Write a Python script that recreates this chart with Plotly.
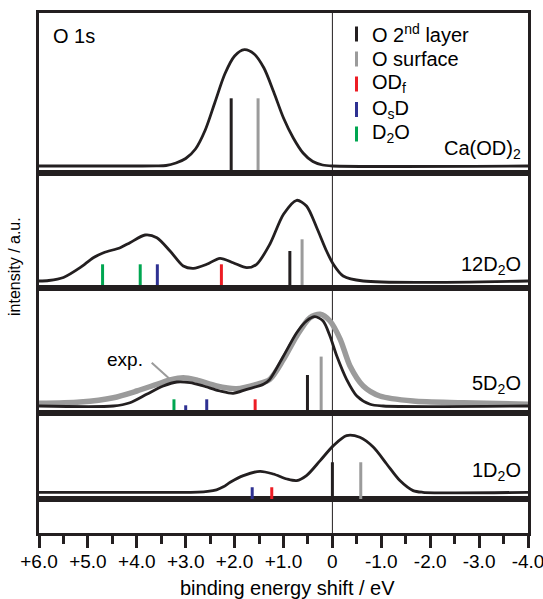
import plotly.graph_objects as go

# ---------------- data ----------------
# binding energy shift (eV) and simulated intensity (a.u.) for each system
ca_E = [6.0, 4.0, 3.6, 3.4, 3.2, 3.0, 2.8, 2.6, 2.4, 2.2, 2.0, 1.8, 1.6, 1.4, 1.2, 1.0, 0.8, 0.6, 0.4, 0.2, 0.0, -4.0]
ca_I = [0, 0, 0.001, 0.005, 0.03, 0.075, 0.17, 0.36, 0.64, 0.92, 1.10, 1.163, 1.12, 0.98, 0.74, 0.48, 0.28, 0.13, 0.045, 0.01, 0, 0]

w12_E = [6.0, 5.8, 5.5, 5.16, 4.89, 4.68, 4.34, 4.14, 3.83, 3.59, 3.32, 3.05, 2.84, 2.57, 2.30, 2.03, 1.75, 1.55,
         1.28, 1.00, 0.73, 0.53, 0.32, 0.12, -0.02, -0.22, -0.63, -4.0]
w12_I = [0, 0.005, 0.035, 0.133, 0.233, 0.283, 0.333, 0.383, 0.46, 0.433, 0.30, 0.15, 0.127, 0.167, 0.227, 0.183,
         0.133, 0.167, 0.367, 0.667, 0.807, 0.75, 0.533, 0.30, 0.167, 0.05, 0, 0]

w5_E = [6.0, 4.48, 4.14, 3.80, 3.46, 3.18, 2.91, 2.64, 2.30, 2.03, 1.75, 1.41, 1.28, 1.00, 0.73, 0.53, 0.36, 0.19,
        0.05, -0.09, -0.29, -0.50, -0.77, -1.04, -4.0]
w5_I = [0, 0, 0.033, 0.117, 0.20, 0.24, 0.233, 0.20, 0.15, 0.127, 0.167, 0.217, 0.267, 0.50, 0.733, 0.85, 0.893,
        0.85, 0.70, 0.50, 0.267, 0.10, 0.017, 0, 0]

# measured spectrum for 5 D2O
exp_E = [6.0, 5.16, 4.48, 4.00, 3.59, 3.32, 3.05, 2.78, 2.37, 1.96, 1.55, 1.28, 1.00, 0.73, 0.46, 0.25, 0.05,
         -0.16, -0.36, -0.63, -0.97, -1.65, -2.68, -4.0]
exp_I = [0.027, 0.04, 0.083, 0.15, 0.217, 0.26, 0.283, 0.26, 0.20, 0.173, 0.217, 0.267, 0.467, 0.70, 0.883,
         0.917, 0.85, 0.667, 0.40, 0.20, 0.10, 0.05, 0.033, 0.017]

w1_E = [6.0, 3.0, 2.75, 2.55, 2.37, 2.23, 2.09, 1.82, 1.48, 1.21, 0.93, 0.73, 0.53, 0.25, -0.02, -0.29, -0.56,
        -0.84, -1.11, -1.38, -1.65, -1.85, -4.0]
w1_I = [0, 0, 0.002, 0.009, 0.025, 0.055, 0.10, 0.167, 0.21, 0.183, 0.133, 0.117, 0.167, 0.317, 0.467, 0.567,
        0.55, 0.45, 0.283, 0.117, 0.017, 0, 0]

# core-level shifts of the individual oxygen species (stick spectra)
ca_stick_E = [2.07, 1.52]
ca_stick_I = [0.677, 0.677]
ca_stick_kind = ["O2", "Os"]

w12_stick_E = [4.70, 3.93, 3.58, 2.27, 0.87, 0.62]
w12_stick_I = [0.167, 0.167, 0.167, 0.167, 0.30, 0.417]
w12_stick_kind = ["D2O", "D2O", "OsD", "ODf", "O2", "Os"]

w5_stick_E = [3.24, 3.00, 2.57, 1.58, 0.51, 0.23]
w5_stick_I = [0.067, 0.007, 0.067, 0.067, 0.31, 0.494]
w5_stick_kind = ["D2O", "OsD", "OsD", "ODf", "O2", "Os"]

w1_stick_E = [1.64, 1.24, 0.0, -0.58]
w1_stick_I = [0.05, 0.05, 0.30, 0.30]
w1_stick_kind = ["OsD", "ODf", "O2", "Os"]

tick_vals = [6, 5, 4, 3, 2, 1, 0, -1, -2, -3, -4]
tick_text = ["+6.0", "+5.0", "+4.0", "+3.0", "+2.0", "+1.0", "0", "-1.0", "-2.0", "-3.0", "-4.0"]

panel_labels = ["Ca(OD)<sub>2</sub>", "12D<sub>2</sub>O", "5D<sub>2</sub>O", "1D<sub>2</sub>O"]

legend_kinds = ["O2", "Os", "ODf", "OsD", "D2O"]
legend_text = ["O 2<sup>nd</sup> layer", "O surface", "OD<sub>f</sub>", "O<sub>s</sub>D", "D<sub>2</sub>O"]

# ---------------- style ----------------
INK = "#231f20"
KIND_COLOR = {"O2": "#231f20", "Os": "#9b9b9b", "ODf": "#ed1c24", "OsD": "#2e3192", "D2O": "#00a651"}
FONT = "Liberation Sans, Arial, sans-serif"

W, H = 543, 599
L, R, T, B = 39, 528, 13, 533          # plot area in pixels
edges = [13, 173, 288, 413, 499.3, 533]  # panel borders (top to bottom)
BASE_PX = 7                               # baseline sits this far above a panel's lower border
PX_PER_UNIT = 100.0
X_RANGE = [6.0, -4.0]


def fx(px):
    return (px - L) / (R - L)


def fy(py):
    return (B - py) / (B - T)


fig = go.Figure()

curves = [(ca_E, ca_I), (w12_E, w12_I), (w5_E, w5_I), (w1_E, w1_I)]
sticks = [(ca_stick_E, ca_stick_I, ca_stick_kind), (w12_stick_E, w12_stick_I, w12_stick_kind),
          (w5_stick_E, w5_stick_I, w5_stick_kind), (w1_stick_E, w1_stick_I, w1_stick_kind)]

layout_axes = {}
for k in range(4):
    ax = k + 2
    xa, ya = f"x{ax}", f"y{ax}"
    top_px, bot_px = edges[k], edges[k + 1]
    ymin = -BASE_PX / PX_PER_UNIT
    ymax = (bot_px - top_px - BASE_PX) / PX_PER_UNIT

    # experimental spectrum (5 D2O only), drawn beneath the simulation
    if k == 2:
        fig.add_trace(go.Scatter(x=exp_E, y=exp_I, xaxis=xa, yaxis=ya, mode="lines",
                                 line=dict(color="#9b9b9b", width=5.5, shape="spline", smoothing=0.8),
                                 hoverinfo="skip", showlegend=False))

    sE, sI, sK = sticks[k]
    for e, i, kind in zip(sE, sI, sK):
        fig.add_trace(go.Scatter(x=[e, e], y=[ymin, i], xaxis=xa, yaxis=ya, mode="lines",
                                 line=dict(color=KIND_COLOR[kind], width=3),
                                 hoverinfo="skip", showlegend=False))

    cE, cI = curves[k]
    fig.add_trace(go.Scatter(x=cE, y=cI, xaxis=xa, yaxis=ya, mode="lines",
                             line=dict(color=INK, width=2.8, shape="spline", smoothing=0.8),
                             hoverinfo="skip", showlegend=False))

    layout_axes[f"xaxis{ax}"] = dict(domain=[0, 1], anchor=ya, matches="x", range=X_RANGE,
                                     showticklabels=False, ticks="", showgrid=False, zeroline=False,
                                     showline=True, mirror=True, linecolor=INK, linewidth=2.5,
                                     automargin=False)
    layout_axes[f"yaxis{ax}"] = dict(domain=[fy(bot_px), fy(top_px)], anchor=xa, range=[ymin, ymax],
                                     showticklabels=False, ticks="", showgrid=False, zeroline=False,
                                     showline=True, mirror=True, linecolor=INK, linewidth=2.5,
                                     automargin=False)

# empty bottom strip carrying the energy axis
fig.add_trace(go.Scatter(x=[None], y=[None], xaxis="x", yaxis="y", showlegend=False))
layout_axes["xaxis"] = dict(domain=[0, 1], anchor="y", range=X_RANGE, automargin=False,
                            tickmode="array", tickvals=tick_vals, ticktext=tick_text,
                            ticks="outside", ticklen=12, tickwidth=2.5, tickcolor=INK,
                            ticklabeloverflow="allow", ticklabelstandoff=-3,
                            minor=dict(ticks="outside", ticklen=8, tickwidth=2.5, tickcolor=INK,
                                       tickmode="linear", tick0=0, dtick=0.5),
                            tickfont=dict(family=FONT, size=19, color="black"),
                            showgrid=False, zeroline=False,
                            showline=True, mirror=True, linecolor=INK, linewidth=2.5)
layout_axes["yaxis"] = dict(domain=[0, fy(edges[4])], anchor="x", range=[0, 1], automargin=False,
                            showticklabels=False, ticks="", showgrid=False, zeroline=False,
                            showline=True, mirror=True, linecolor=INK, linewidth=2.5)

shapes = [dict(type="line", xref="x", yref="paper", x0=0, x1=0, y0=0, y1=1,
               line=dict(color=INK, width=1), layer="below")]

# legend swatches
leg_rows = [34, 59, 84, 109.5, 134]
for yc, kind in zip(leg_rows, legend_kinds):
    shapes.append(dict(type="rect", xref="paper", yref="paper",
                       x0=fx(355), x1=fx(358), y0=fy(yc + 7.5), y1=fy(yc - 7.5),
                       line=dict(width=0), fillcolor=KIND_COLOR[kind]))

# pointer for the experimental curve label
shapes.append(dict(type="line", xref="paper", yref="paper", x0=fx(151.7), y0=fy(362.7),
                   x1=fx(170), y1=fy(379.3), line=dict(color="#9b9b9b", width=2)))

annotations = []


def label(text, x, y, size=20, xanchor="left", **kw):
    annotations.append(dict(text=text, xref="paper", yref="paper", x=fx(x), y=fy(y),
                            xanchor=xanchor, yanchor="middle", showarrow=False,
                            font=dict(family=FONT, size=size, color="black"), **kw))


label("O 1s", 51, 36)
for yc, txt in zip(leg_rows, legend_text):
    label(txt, 370, yc)

for txt, yc in zip(panel_labels, [150, 265, 384.5, 471.5]):
    label(txt, 523, yc, xanchor="right")

label("exp.", 125, 359, size=19, xanchor="center")
label("binding energy shift / eV", 287.5, 588, size=20, xanchor="center")
label("intensity / a.u.", 14, 267, size=16, xanchor="center", textangle=-90)

fig.update_layout(width=W, height=H, margin=dict(l=L, r=W - R, t=T, b=H - B, autoexpand=False),
                  paper_bgcolor="white", plot_bgcolor="rgba(0,0,0,0)",
                  showlegend=False, shapes=shapes, annotations=annotations, **layout_axes)

fig.write_html("out.html")
